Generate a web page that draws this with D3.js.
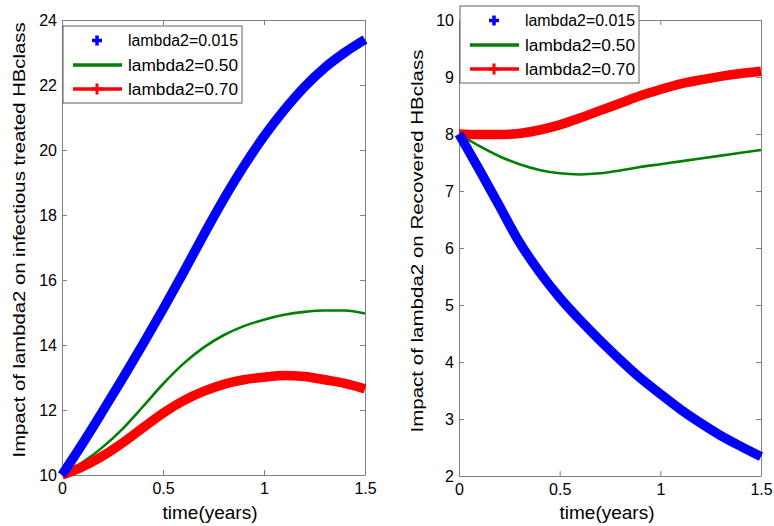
<!DOCTYPE html>
<html>
<head>
<meta charset="utf-8">
<script src="https://cdn.jsdelivr.net/npm/d3@7"></script>
<style>
  body { margin: 0; background: #fff; }
  svg { display: block; font-family: Arial, "Liberation Sans", sans-serif; }
  .axis path, .axis line { stroke: #808080; }
  .axis text { fill: #000; font-size: 16px; }
</style>
</head>
<body>
<svg id="chart" width="774" height="526"></svg>
<script>
// time points (years)
const times = [0, 0.1, 0.2, 0.3, 0.4, 0.5, 0.6, 0.7, 0.8, 0.9, 1.0, 1.1, 1.2, 1.3, 1.4, 1.5];

// left panel: infectious treated HB class
const leftBlue  = [10.0, 10.95, 11.95, 12.97, 14.02, 15.1, 16.22, 17.37, 18.48, 19.5, 20.42, 21.23, 21.94, 22.53, 23.0, 23.4];
const leftGreen = [10.0, 10.38, 10.85, 11.42, 12.1, 12.8, 13.42, 13.92, 14.3, 14.58, 14.78, 14.93, 15.02, 15.06, 15.06, 14.97];
const leftRed   = [10.0, 10.25, 10.58, 10.99, 11.45, 11.9, 12.28, 12.57, 12.79, 12.93, 13.01, 13.06, 13.03, 12.93, 12.82, 12.65];

// right panel: recovered HB class
const rightBlue  = [8.0, 7.38, 6.74, 6.1, 5.58, 5.13, 4.74, 4.38, 4.04, 3.72, 3.44, 3.17, 2.93, 2.71, 2.52, 2.34];
const rightGreen = [8.0, 7.79, 7.61, 7.47, 7.37, 7.31, 7.29, 7.31, 7.36, 7.42, 7.47, 7.52, 7.57, 7.62, 7.67, 7.72];
const rightRed   = [8.0, 7.99, 7.99, 8.01, 8.07, 8.16, 8.28, 8.41, 8.54, 8.67, 8.78, 8.88, 8.95, 9.01, 9.06, 9.1];

const legendLabels = ["lambda2=0.015", "lambda2=0.50", "lambda2=0.70"];
const xTicks = [0, 0.5, 1, 1.5];
const leftYTicks = [10, 12, 14, 16, 18, 20, 22, 24];
const rightYTicks = [2, 3, 4, 5, 6, 7, 8, 9, 10];

const svg = d3.select("#chart");

const panels = [
  {
    x0: 62, x1: 365, y0: 20, y1: 475,
    yDomain: [10, 24], yTicks: leftYTicks,
    series: [leftBlue, leftGreen, leftRed],
    ylabel: "Impact of lambda2 on infectious treated HBclass",
    ylabelX: 19, ylabelLen: 435, ylabelMid: 240,
    xlabelX: 210, legX: 63, legY: 26
  },
  {
    x0: 459, x1: 761, y0: 20, y1: 476,
    yDomain: [2, 10], yTicks: rightYTicks,
    series: [rightBlue, rightGreen, rightRed],
    ylabel: "Impact of lambda2 on Recovered HBclass",
    ylabelX: 417, ylabelLen: 383, ylabelMid: 241,
    xlabelX: 607, legX: 460, legY: 6
  }
];

const colors = ["#0000ff", "#008000", "#ff0000"];
const widths = [9.5, 2.6, 9.5];

function plus(g, cx, cy, s, w, col) {
  g.append("line").attr("x1", cx - s / 2).attr("x2", cx + s / 2)
    .attr("y1", cy).attr("y2", cy).attr("stroke", col).attr("stroke-width", w);
  g.append("line").attr("x1", cx).attr("x2", cx)
    .attr("y1", cy - s / 2).attr("y2", cy + s / 2).attr("stroke", col).attr("stroke-width", w);
}

panels.forEach(p => {
  const x = d3.scaleLinear().domain([0, 1.5]).range([p.x0, p.x1]);
  const y = d3.scaleLinear().domain(p.yDomain).range([p.y1, p.y0]);
  const g = svg.append("g");

  // axes, ticks pointing inward
  g.append("g").attr("class", "axis")
    .attr("transform", `translate(0,${p.y1})`)
    .call(d3.axisBottom(x).tickValues(xTicks).tickFormat(d3.format("")).tickSizeInner(-5).tickSizeOuter(0).tickPadding(8));
  g.append("g").attr("class", "axis")
    .attr("transform", `translate(0,${p.y0})`)
    .call(d3.axisTop(x).tickValues(xTicks).tickFormat("").tickSizeInner(-5).tickSizeOuter(0));
  g.append("g").attr("class", "axis")
    .attr("transform", `translate(${p.x0},0)`)
    .call(d3.axisLeft(y).tickValues(p.yTicks).tickFormat(d3.format("")).tickSizeInner(-5).tickSizeOuter(0).tickPadding(5));
  g.append("g").attr("class", "axis")
    .attr("transform", `translate(${p.x1},0)`)
    .call(d3.axisRight(y).tickValues(p.yTicks).tickFormat("").tickSizeInner(-5).tickSizeOuter(0));
  g.selectAll(".axis text").attr("font-family", null);

  // curves
  const line = d3.line().x((d, i) => x(times[i])).y(d => y(d)).curve(d3.curveMonotoneX);
  [1, 2, 0].forEach(k => {
    g.append("path")
      .attr("d", line(p.series[k]))
      .attr("fill", "none")
      .attr("stroke", colors[k])
      .attr("stroke-width", widths[k])
      .attr("stroke-linejoin", "round");
  });

  // axis labels
  g.append("text")
    .attr("transform", `translate(${p.ylabelX},${p.ylabelMid}) rotate(-90)`)
    .attr("text-anchor", "middle").attr("dy", "0.35em")
    .attr("font-size", 17)
    .attr("textLength", p.ylabelLen).attr("lengthAdjust", "spacingAndGlyphs")
    .text(p.ylabel);
  g.append("text")
    .attr("x", p.xlabelX).attr("y", 519)
    .attr("text-anchor", "middle")
    .attr("font-size", 18)
    .attr("textLength", 95).attr("lengthAdjust", "spacingAndGlyphs")
    .text("time(years)");

  // legend
  const lg = g.append("g").attr("transform", `translate(${p.legX},${p.legY})`);
  lg.append("rect").attr("width", 179).attr("height", 77)
    .attr("fill", "#fff").attr("stroke", "#606060").attr("stroke-width", 1);
  const rows = [14.5, 39, 63];
  legendLabels.forEach((lab, i) => {
    const cy = rows[i];
    if (i === 0) {
      plus(lg, 34, cy, 10, 3.5, colors[0]);
    } else {
      lg.append("line").attr("x1", 10).attr("x2", 59).attr("y1", cy).attr("y2", cy)
        .attr("stroke", colors[i]).attr("stroke-width", 3.5);
      if (i === 2) plus(lg, 34, cy, 11, 3, colors[2]);
    }
    lg.append("text").attr("x", 65).attr("y", cy).attr("dy", "0.35em")
      .attr("font-size", 16)
      .attr("textLength", 110).attr("lengthAdjust", "spacingAndGlyphs")
      .text(lab);
  });
});
</script>
</body>
</html>
